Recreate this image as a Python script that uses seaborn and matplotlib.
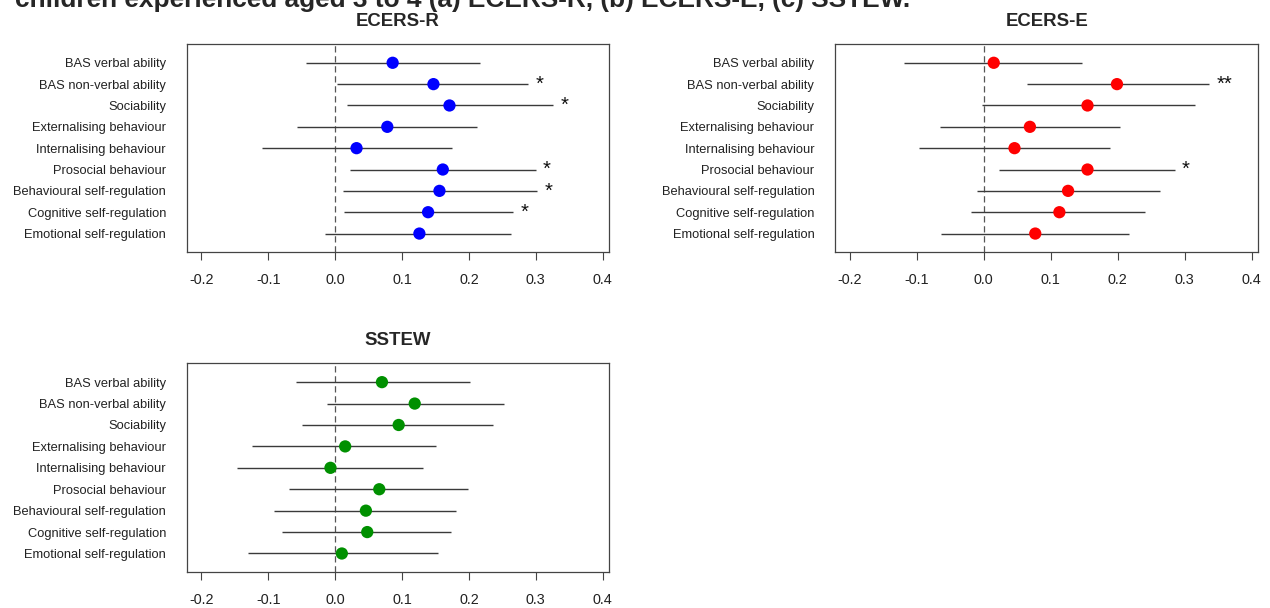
import matplotlib
matplotlib.use("Agg")
import matplotlib.pyplot as plt
import seaborn as sns
import pandas as pd
import numpy as np

# ---------------- data ----------------
categories = ["BAS verbal ability", "BAS non-verbal ability", "Sociability",
              "Externalising behaviour", "Internalising behaviour",
              "Prosocial behaviour", "Behavioural self-regulation",
              "Cognitive self-regulation", "Emotional self-regulation"]

ecers_r_est = [0.086, 0.147, 0.171, 0.078, 0.032, 0.161, 0.156, 0.139, 0.126]
ecers_r_lo = [-0.043, 0.003, 0.017, -0.057, -0.109, 0.022, 0.012, 0.013, -0.015]
ecers_r_hi = [0.216, 0.289, 0.326, 0.212, 0.175, 0.300, 0.302, 0.266, 0.263]
ecers_r_sig = ["", "*", "*", "", "", "*", "*", "*", ""]

ecers_e_est = [0.015, 0.199, 0.155, 0.069, 0.046, 0.155, 0.126, 0.113, 0.077]
ecers_e_lo = [-0.119, 0.064, -0.002, -0.065, -0.097, 0.023, -0.010, -0.019, -0.063]
ecers_e_hi = [0.147, 0.337, 0.315, 0.204, 0.189, 0.285, 0.263, 0.241, 0.217]
ecers_e_sig = ["", "**", "", "", "", "*", "", "", ""]

sstew_est = [0.070, 0.119, 0.095, 0.015, -0.007, 0.066, 0.046, 0.048, 0.010]
sstew_lo = [-0.059, -0.012, -0.049, -0.125, -0.147, -0.069, -0.091, -0.079, -0.130]
sstew_hi = [0.201, 0.253, 0.236, 0.151, 0.132, 0.199, 0.181, 0.174, 0.154]
sstew_sig = ["", "", "", "", "", "", "", "", ""]

x_ticks = [-0.2, -0.1, 0.0, 0.1, 0.2, 0.3, 0.4]
x_tick_labels = ["-0.2", "-0.1", "0.0", "0.1", "0.2", "0.3", "0.4"]

main_title = "children experienced aged 3 to 4 (a) ECERS-R, (b) ECERS-E, (c) SSTEW."

panels = [
    ("ECERS-R", "#0000FF", ecers_r_est, ecers_r_lo, ecers_r_hi, ecers_r_sig),
    ("ECERS-E", "#FF0000", ecers_e_est, ecers_e_lo, ecers_e_hi, ecers_e_sig),
    ("SSTEW", "#009000", sstew_est, sstew_lo, sstew_hi, sstew_sig),
]

# ---------------- style ----------------
sns.set_style("white")
plt.rcParams["font.family"] = ["Liberation Sans", "DejaVu Sans"]
plt.rcParams["axes.unicode_minus"] = False

W, H = 1270, 608
fig = plt.figure(figsize=(W / 100, H / 100), dpi=100)

# axes boxes in pixels: (left, top, right, bottom)
boxes = [(186.7, 44.0, 609.3, 251.7),
         (835.0, 44.0, 1258.3, 251.7),
         (186.7, 363.3, 609.3, 571.7)]

n = len(categories)
for (title, color, est, lo, hi, sig), (l, t, r, b) in zip(panels, boxes):
    ax = fig.add_axes([l / W, 1 - b / H, (r - l) / W, (b - t) / H])
    df = pd.DataFrame({"category": categories, "est": est, "lo": lo,
                       "hi": hi, "sig": sig})
    df["pos"] = n - np.arange(n)

    ax.axvline(0, color="#555555", lw=0.9, ls=(0, (5, 3)), zorder=1)
    ax.hlines(df["pos"], df["lo"], df["hi"], color="#3a3a3a", lw=1.0, zorder=2)
    sns.scatterplot(data=df, x="est", y="pos", ax=ax, color=color, s=78,
                    edgecolor="none", zorder=3, legend=False)
    for _, row in df.iterrows():
        if row["sig"]:
            ax.text(row["hi"] + 0.011, row["pos"], row["sig"], ha="left",
                    va="center", fontsize=14.5, color="#111111")

    ax.set_xlim(-0.222, 0.41)
    ax.set_ylim(0.15, 9.88)
    ax.set_xticks(x_ticks)
    ax.set_xticklabels(x_tick_labels, fontsize=10.4, color="#222222")
    ax.set_yticks(df["pos"])
    ax.set_yticklabels(df["category"], fontsize=9.3, color="#222222")
    ax.tick_params(axis="x", bottom=True, length=6, width=0.8,
                   color="#444444", pad=9.3, direction="out")
    ax.tick_params(axis="y", left=False, length=0, pad=14.9)
    ax.set_xlabel("")
    ax.set_ylabel("")
    for sp in ax.spines.values():
        sp.set_visible(True)
        sp.set_color("#444444")
        sp.set_linewidth(0.9)
    ax.text(0.5, 1 + 23 / (b - t), title, transform=ax.transAxes,
            ha="center", va="center", fontsize=13.4, fontweight="bold")

fig.text(15 / W, 1 - 7 / H, main_title, ha="left", va="baseline",
         fontsize=18.9, fontweight="bold")

fig.savefig("out.png", dpi=100)
